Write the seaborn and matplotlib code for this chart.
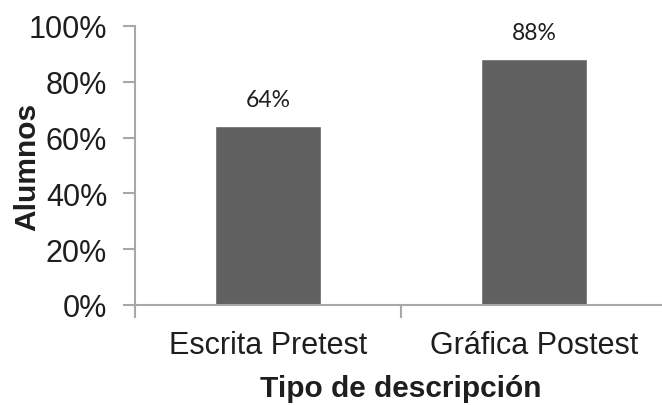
import matplotlib
matplotlib.use("Agg")
import matplotlib.pyplot as plt
from matplotlib.ticker import PercentFormatter, FixedLocator
import seaborn as sns
import pandas as pd

# Data
categorias = ["Escrita Pretest", "Gráfica Postest"]
porcentajes = [0.64, 0.88]
y_ticks = [0.0, 0.2, 0.4, 0.6, 0.8, 1.0]

sns.set_theme(style="white")
plt.rcParams["font.family"] = ["Liberation Sans", "DejaVu Sans"]

df = pd.DataFrame({"Tipo": categorias, "Valor": porcentajes})

fig = plt.figure(figsize=(6.62, 4.06), dpi=100)
ax = fig.add_axes([135 / 662, 100 / 406, 532 / 662, 279 / 406])

bar_color = "#616161"
text_color = "#1e1e1e"
axis_color = "#a8a8a8"

sns.barplot(data=df, x="Tipo", y="Valor", color=bar_color, width=0.4,
            saturation=1, ax=ax)

ax.set_xlim(-0.5, 1.5)
ax.set_ylim(0, 1.0)
ax.set_yticks(y_ticks)
ax.yaxis.set_major_formatter(PercentFormatter(1.0, decimals=0))

# Value labels above each bar
for i, v in enumerate(porcentajes):
    ax.annotate(f"{v * 100:.0f}%", xy=(i, v), xytext=(0, 14.4),
                textcoords="offset points", ha="center", va="baseline",
                fontsize=16.5, color=text_color,
                family=["Lato", "DejaVu Sans"])

# Spines
for side in ("top", "right"):
    ax.spines[side].set_visible(False)
for side in ("left", "bottom"):
    ax.spines[side].set_color(axis_color)
    ax.spines[side].set_linewidth(1.5)

# Ticks: category boundaries on x, outward marks on y
ax.xaxis.set_minor_locator(FixedLocator([-0.5, 0.5, 1.5]))
ax.tick_params(axis="x", which="major", length=0, pad=18,
               labelsize=22, labelcolor=text_color)
ax.tick_params(axis="x", which="minor", length=9, width=1.5,
               color=axis_color, direction="out", bottom=True)
ax.tick_params(axis="y", which="major", length=9, width=1.5,
               color=axis_color, direction="out", left=True, pad=11,
               labelsize=22, labelcolor=text_color)

ax.set_xlabel("Tipo de descripción", fontsize=21.5, fontweight="bold",
              color=text_color, labelpad=10)
ax.set_ylabel("Alumnos", fontsize=21.5, fontweight="bold", color=text_color)
ax.yaxis.set_label_coords(-0.176, 0.5)

fig.savefig("out.png", dpi=100, facecolor="white")
